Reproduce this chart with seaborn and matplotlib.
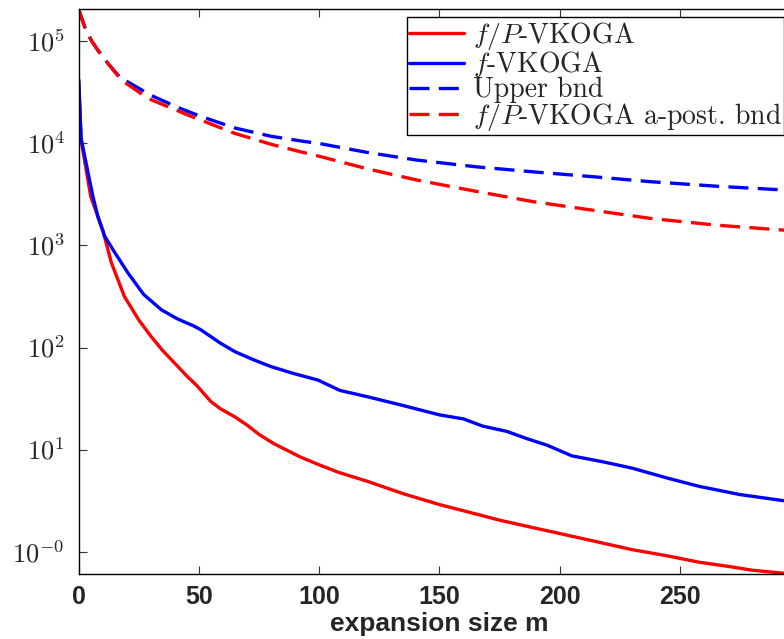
import numpy as np
import pandas as pd
import matplotlib
matplotlib.use("Agg")
import matplotlib.pyplot as plt
import seaborn as sns
from matplotlib.ticker import FixedLocator, FixedFormatter, NullLocator

# ---- data ----
m_fp = [0, 1, 5, 10, 13.6, 19, 25, 30, 35, 41, 45, 49, 55, 59, 65, 70, 75, 81, 92, 100,
        108, 120, 135, 150, 165, 175, 190, 200, 215, 230, 245, 258, 270, 280, 289, 295]
err_fp = [41700, 10700, 3020, 1410, 676, 316, 186, 129, 93, 66, 52.5, 42.7, 29.5, 25.1, 20.9,
          17.4, 14.1, 11.5, 8.5, 7.1, 6.0, 4.9, 3.7, 2.9, 2.35, 2.04, 1.70, 1.51, 1.26, 1.05,
          0.91, 0.79, 0.72, 0.66, 0.63, 0.61]

m_f = [0, 1, 3.9, 5.9, 8, 10.8, 15, 20.5, 27, 34.4, 41, 48, 51, 59, 65, 72.6, 80, 89, 99.5,
       108.6, 120, 135, 150, 160, 168, 178, 186, 195, 205, 218, 230, 245, 258, 275, 295]
err_f = [41700, 11200, 5130, 3020, 1905, 1230, 851, 537, 331, 234, 191, 162, 148, 110, 91, 76,
         65, 56, 48, 38, 33, 27, 21.9, 20, 17, 15.1, 12.9, 11, 8.7, 7.6, 6.6, 5.25, 4.37, 3.63,
         3.12]

m_ub = [0, 2.5, 5.2, 8, 12.2, 17.7, 20.5, 30, 41.3, 50, 65, 80, 94, 99.5, 120, 140.5, 165, 189,
        215, 237.5, 265, 295]
upper_bnd = [204000, 138000, 102000, 81300, 60300, 42700, 39800, 29500, 22400, 18600, 14100,
             11700, 10400, 10000, 8130, 6850, 5890, 5250, 4680, 4210, 3800, 3470]

m_pb = [0, 2.5, 5.2, 8, 12.2, 17.7, 28.8, 45.4, 64.9, 80, 92, 99.5, 120, 140.5, 165, 189, 215,
        237.5, 265, 295]
post_bnd = [204000, 138000, 102000, 81300, 60300, 41700, 27500, 18900, 12500, 9770, 8280, 7520,
            5620, 4370, 3390, 2680, 2190, 1840, 1580, 1400]

labels = [r"$f/P$-VKOGA", r"$f$-VKOGA", "Upper bnd", r"$f/P$-VKOGA a-post. bnd"]
ytick_vals = [1, 10, 100, 1000, 10000, 100000]
ytick_labels = [r"$10^{-0}$", r"$10^{1}$", r"$10^{2}$", r"$10^{3}$", r"$10^{4}$", r"$10^{5}$"]
xtick_vals = [0, 50, 100, 150, 200, 250]

sns.set_style("ticks")
plt.rcParams["mathtext.fontset"] = "cm"

fig = plt.figure(figsize=(7.84, 6.39), dpi=100)
ax = fig.add_axes([78.7 / 784, 1 - 573.7 / 639, (800.2 - 78.7) / 784, (573.7 - 9.3) / 639])

series = [
    (m_fp, err_fp, "#ff0000", "-", labels[0]),
    (m_f, err_f, "#0000ff", "-", labels[1]),
    (m_ub, upper_bnd, "#0000ff", (0, (6, 2.8)), labels[2]),
    (m_pb, post_bnd, "#ff0000", (0, (6, 2.8)), labels[3]),
]
for mx, vy, col, ls, lab in series:
    df = pd.DataFrame({"m": mx, "v": vy})
    sns.lineplot(data=df, x="m", y="v", color=col, linestyle=ls, linewidth=2.4,
                 label=lab, ax=ax, sort=False, estimator=None)

ax.set_yscale("log")
ax.set_xlim(0, 300)
ax.set_ylim(0.61, 2.05e5)
ax.yaxis.set_major_locator(FixedLocator(ytick_vals))
ax.yaxis.set_major_formatter(FixedFormatter(ytick_labels))
ax.yaxis.set_minor_locator(NullLocator())
ax.set_xticks(xtick_vals)
ax.set_xticklabels([str(v) for v in xtick_vals], fontweight="bold",
                   fontfamily="Liberation Sans", fontsize=18)
for t in ax.get_yticklabels():
    t.set_fontsize(19)
ax.tick_params(axis="both", which="major", direction="in", length=5.5, width=0.8,
               top=True, right=True, color="#333333")
ax.tick_params(axis="x", pad=8)
ax.tick_params(axis="y", pad=10)
for s in ax.spines.values():
    s.set_linewidth(1.0)
    s.set_color("black")

ax.set_xlabel("expansion size m", fontweight="bold", fontfamily="Liberation Sans",
              fontsize=19, labelpad=2)
ax.set_ylabel("")

leg = ax.legend(loc="upper right", bbox_to_anchor=(1.0, 1 - 17.3 / 639),
                bbox_transform=fig.transFigure, borderaxespad=0,
                prop={"family": "cmr10", "size": 20}, fancybox=False, framealpha=1,
                edgecolor="black", handlelength=2.0, handletextpad=0.3,
                labelspacing=-0.08, borderpad=0.08)
leg.get_frame().set_linewidth(1.0)

fig.savefig("out.png", dpi=100)
